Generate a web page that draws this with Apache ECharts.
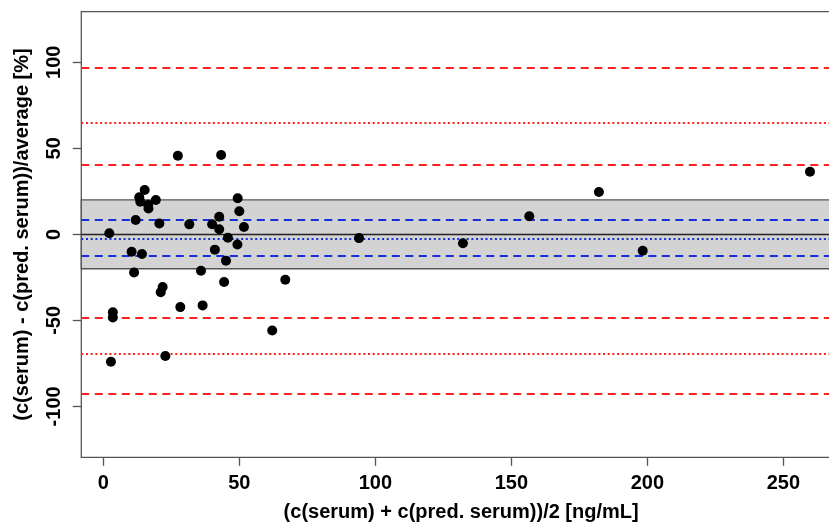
<!DOCTYPE html>
<html>
<head>
<meta charset="utf-8">
<script src="https://cdn.jsdelivr.net/npm/echarts@6/dist/echarts.min.js"></script>
<style>html,body{margin:0;padding:0;background:#fff}#c{width:829px;height:529px}</style>
</head>
<body>
<div id="c"></div>
<script>
// Data: x = mean of the two measurements [ng/mL], y = relative difference [%]
const xVals = [2.2, 2.8, 3.5, 3.5, 10.4, 11.3, 11.9, 13.2, 13.6, 14.2, 15.2, 16.5, 16.6, 19.3, 20.6, 21.1, 21.8, 22.8, 27.4, 28.3, 31.6, 35.9, 36.5, 40.0, 41.0, 42.6, 42.6, 43.3, 44.4, 45.1, 45.8, 49.3, 49.4, 50.0, 51.7, 62.1, 66.9, 94.0, 132.2, 156.6, 182.2, 198.3, 259.8];
const yVals = [0.6, -74.1, -45.3, -48.3, -10.1, -22.2, 8.3, 21.6, 18.9, -11.4, 25.8, 17.2, 15.0, 20.0, 6.3, -33.7, -30.6, -70.7, 45.7, -42.3, 5.8, -21.2, -41.3, 5.9, -8.9, 10.2, 3.0, 46.1, -27.7, -15.3, -2.0, -5.9, 21.0, 13.4, 4.3, -55.9, -26.4, -2.2, -5.2, 10.5, 24.6, -9.5, 36.4];

// Reference lines
const band = [-20, 20];
const zeroLine = [0];
const blueDashed = [8.3, -12.4];
const blueDotted = [-2.6];
const redDashed = [96.7, 40.5, -48.3, -92.7];
const redDotted = [65.1, -69.6];

// Axis ticks
const xTicks = [0, 50, 100, 150, 200, 250];
const yTicks = [-100, -50, 0, 50, 100];

const points = xVals.map((x, i) => [x, yVals[i]]);

const FONT = 'Liberation Sans, Arial, sans-serif';

function hLines(values, color, type, width) {
  return values.map(v => ({
    yAxis: v,
    lineStyle: { color: color, type: type, width: width }
  }));
}

const chart = echarts.init(document.getElementById('c'), null, { renderer: 'canvas' });
chart.setOption({
  animation: false,
  backgroundColor: '#fff',
  grid: {
    left: 81.3, top: 11.7, bottom: 71.7, right: -12,
    show: true, borderColor: '#555', borderWidth: 1.3, backgroundColor: 'transparent',
    outerBoundsMode: 'none', containLabel: false
  },
  xAxis: {
    type: 'value', min: -8.1, max: 271.2,
    axisLine: { show: false, onZero: false },
    splitLine: { show: false },
    axisTick: { show: true, customValues: xTicks, length: 8.5, lineStyle: { color: '#555', width: 1.3 } },
    axisLabel: { customValues: xTicks, fontFamily: FONT, fontWeight: 'bold', fontSize: 20, color: '#000', margin: 16 },
    name: '(c(serum) + c(pred. serum))/2 [ng/mL]',
    nameLocation: 'middle', nameGap: 45,
    nameTextStyle: { fontFamily: FONT, fontWeight: 'bold', fontSize: 20, color: '#000' }
  },
  yAxis: {
    type: 'value', min: -129.6, max: 129.4,
    axisLine: { show: false, onZero: false },
    splitLine: { show: false },
    axisTick: { show: true, customValues: yTicks, length: 8.5, lineStyle: { color: '#555', width: 1.3 } },
    axisLabel: { customValues: yTicks, rotate: 90, fontFamily: FONT, fontWeight: 'bold', fontSize: 20, color: '#000', margin: 17 },
    name: '(c(serum) - c(pred. serum))/average [%]',
    nameLocation: 'middle', nameGap: 49, nameRotate: 90,
    nameTextStyle: { fontFamily: FONT, fontWeight: 'bold', fontSize: 20, color: '#000' }
  },
  series: [
    {
      type: 'scatter',
      data: points,
      symbol: 'circle',
      symbolSize: 10,
      itemStyle: { color: '#000', opacity: 1 },
      z: 10,
      markArea: {
        silent: true,
        itemStyle: { color: '#d3d3d3', borderColor: '#555', borderWidth: 1.3 },
        data: [[{ yAxis: band[0] }, { yAxis: band[1] }]]
      },
      markLine: {
        silent: true,
        symbol: ['none', 'none'],
        label: { show: false },
        animation: false,
        data: [].concat(
          hLines(zeroLine, '#222', 'solid', 1.4),
          hLines(blueDashed, '#1530d8', [8, 5.5], 2),
          hLines(blueDotted, '#1530d8', [2, 2.7], 2),
          hLines(redDashed, '#ff2020', [8, 5.5], 2),
          hLines(redDotted, '#ff2020', [2, 2.7], 2)
        )
      }
    }
  ]
});
</script>
</body>
</html>
